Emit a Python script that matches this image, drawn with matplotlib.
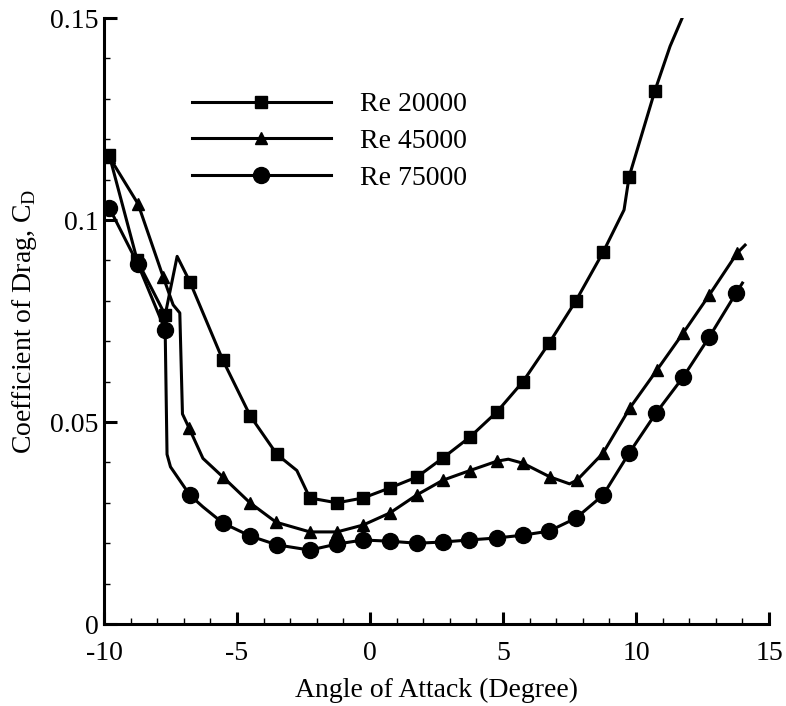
import numpy as np
import matplotlib
matplotlib.use("Agg")
import matplotlib.pyplot as plt
from matplotlib.ticker import MultipleLocator, FuncFormatter

# angle of attack (deg) and drag coefficient
# extra points without markers only shape the curve between the measured ones
alpha_20k = [-9.8, -8.75, -7.7, -7.25, -6.77, -5.53, -4.5, -3.5, -2.75, -2.26, -1.24, -0.26,
             0.75, 1.77, 2.74, 3.76, 4.77, 5.75, 6.73, 7.74, 8.76, 9.55, 9.74, 10.71, 11.28, 11.8]
cd_20k = [0.116, 0.090, 0.0765, 0.091, 0.0847, 0.0653, 0.0515, 0.042, 0.038, 0.0312, 0.030, 0.0312,
          0.0337, 0.0364, 0.0411, 0.0463, 0.0525, 0.060, 0.0695, 0.080, 0.092, 0.1025, 0.1107, 0.132, 0.143, 0.151]
marks_20k = [0, 1, 2, 4, 5, 6, 7, 9, 10, 11, 12, 13, 14, 15, 16, 17, 18, 19, 20, 22, 23]

alpha_45k = [-9.8, -8.72, -7.78, -7.4, -7.15, -7.05, -6.8, -6.28, -5.53, -4.51, -3.53, -2.26, -1.24,
             -0.26, 0.75, 1.77, 2.74, 3.76, 4.77, 5.2, 5.75, 6.77, 7.5, 7.78, 8.76, 9.77, 10.79,
             11.77, 12.75, 13.8, 14.1]
cd_45k = [0.1156, 0.104, 0.086, 0.079, 0.077, 0.052, 0.0485, 0.041, 0.0364, 0.030, 0.0252, 0.0228, 0.0228,
          0.0245, 0.0275, 0.032, 0.0356, 0.038, 0.0403, 0.0408, 0.0398, 0.0364, 0.0347, 0.0356, 0.0423, 0.0535,
          0.0629, 0.072, 0.0814, 0.0918, 0.0938]
marks_45k = [0, 1, 2, 6, 8, 9, 10, 11, 12, 13, 14, 15, 16, 17, 18, 20, 21, 23, 24, 25, 26, 27, 28, 29]

alpha_75k = [-9.8, -8.72, -7.7, -7.63, -7.5, -6.77, -6.28, -5.53, -4.51, -3.5, -2.26, -1.24, -0.26,
             0.75, 1.77, 2.74, 3.72, 4.77, 5.75, 6.73, 7.74, 8.76, 9.74, 10.75, 11.77, 12.75, 13.76, 14.0]
cd_75k = [0.103, 0.089, 0.0728, 0.042, 0.0389, 0.0319, 0.029, 0.025, 0.0218, 0.0196, 0.0183, 0.0198, 0.0208,
          0.0205, 0.020, 0.0203, 0.0208, 0.0213, 0.022, 0.023, 0.0262, 0.0319, 0.0423, 0.0522, 0.0611, 0.071,
          0.0819, 0.0844]
marks_75k = [0, 1, 2, 5, 7, 8, 9, 10, 11, 12, 13, 14, 15, 16, 17, 18, 19, 20, 21, 22, 23, 24, 25, 26]

labels = ['Re 20000', 'Re 45000', 'Re 75000']

plt.rcParams['font.family'] = ['Liberation Serif', 'DejaVu Serif']
plt.rcParams['mathtext.fontset'] = 'custom'
plt.rcParams['mathtext.rm'] = 'Liberation Serif'
plt.rcParams['axes.unicode_minus'] = False

fig = plt.figure(figsize=(7.86, 7.06), dpi=100)
ax = fig.add_axes([0.1323, 0.1161, 0.8461, 0.8584])

lw = 2.2
ax.plot(alpha_20k, cd_20k, color='black', lw=lw, marker='s', ms=8.5, markevery=marks_20k, label=labels[0])
ax.plot(alpha_45k, cd_45k, color='black', lw=lw, marker='^', ms=8.5, markevery=marks_45k, label=labels[1])
ax.plot(alpha_75k, cd_75k, color='black', lw=lw, marker='o', ms=11.5, markevery=marks_75k, label=labels[2])

ax.set_xlim(-10, 15)
ax.set_ylim(0, 0.15)
ax.spines['top'].set_visible(False)
ax.spines['right'].set_visible(False)
ax.spines['left'].set_linewidth(2.2)
ax.spines['bottom'].set_linewidth(2.2)

ax.xaxis.set_major_locator(MultipleLocator(5))
ax.xaxis.set_minor_locator(MultipleLocator(1))
ax.yaxis.set_major_locator(MultipleLocator(0.05))
ax.yaxis.set_minor_locator(MultipleLocator(0.01))
ax.yaxis.set_major_formatter(FuncFormatter(lambda v, p: '%g' % round(v, 3)))
ax.xaxis.set_major_formatter(FuncFormatter(lambda v, p: '%g' % v))
ax.tick_params(which='major', direction='in', length=9, width=2.2, labelsize=20)
ax.tick_params(which='minor', direction='in', length=4.5, width=1.0)
ax.tick_params(axis='x', which='major', pad=12)
ax.tick_params(axis='y', which='major', pad=4)

ax.set_xlabel('Angle of Attack (Degree)', fontsize=20, labelpad=9)
ax.set_ylabel('Coefficient of Drag, C$_\\mathrm{D}$', fontsize=20, labelpad=8)

ax.legend(loc='upper left', bbox_to_anchor=(0.132, 0.878), frameon=False, fontsize=20,
          handlelength=5.0, handletextpad=1.05, labelspacing=0.41, borderpad=0, borderaxespad=0,
          numpoints=1)

fig.savefig('out.png', dpi=100)
